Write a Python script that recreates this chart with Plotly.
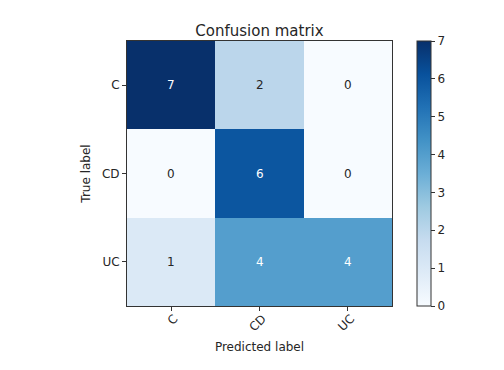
import plotly.graph_objects as go

classes = ["C", "CD", "UC"]
values = [[7, 2, 0],
          [0, 6, 0],
          [1, 4, 4]]

blues = ["#f7fbff", "#deebf7", "#c6dbef", "#9ecae1", "#6baed6",
         "#4292c6", "#2171b5", "#08519c", "#08306b"]
colorscale = [[i / (len(blues) - 1), c] for i, c in enumerate(blues)]

vmax = max(max(r) for r in values)
thresh = vmax / 2.0

FONT = "DejaVu Sans"
TXT = "#262626"

fig = go.Figure()
fig.add_trace(go.Heatmap(
    z=values, x=classes, y=classes,
    colorscale=colorscale, zmin=0, zmax=vmax,
    showscale=True, xgap=0, ygap=0,
    colorbar=dict(
        thickness=14, len=1.0, lenmode="fraction",
        x=1.0943, xanchor="left", xpad=0, y=0.5, yanchor="middle", ypad=0,
        outlinecolor="#333333", outlinewidth=1,
        ticks="outside", ticklen=4, tickcolor="#333333",
        tickvals=list(range(0, vmax + 1)),
        tickfont=dict(family=FONT, size=12, color=TXT),
    ),
    hoverinfo="skip",
))

annotations = []
for i, row in enumerate(values):
    for j, v in enumerate(row):
        annotations.append(dict(
            x=classes[j], y=classes[i], text=str(v), showarrow=False,
            font=dict(family=FONT, size=12,
                      color="white" if v > thresh else TXT),
        ))

# The page body has an 8px default margin, so the figure is laid out
# 8px smaller/offset to line up with the reference frame.
fig.update_layout(
    width=496, height=354,
    margin=dict(l=119, r=112, t=33, b=56, autoexpand=False),
    paper_bgcolor="white", plot_bgcolor="white",
    annotations=annotations,
    title=dict(text="Confusion matrix", x=0.5, xref="paper", xanchor="center",
               y=1, yref="paper", yanchor="bottom", pad=dict(b=5),
               font=dict(family=FONT, size=15, color=TXT)),
    font=dict(family=FONT, size=12, color=TXT),
)
fig.update_xaxes(
    showline=True, linecolor="#333333", linewidth=1, mirror=True,
    ticks="outside", ticklen=4, tickcolor="#333333", tickangle=-45,
    ticklabelstandoff=-4, ticklabelshift=3,
    showgrid=False, zeroline=False,
    tickfont=dict(family=FONT, size=12, color=TXT),
    title=dict(text="Predicted label", font=dict(size=12), standoff=9),
)
fig.update_yaxes(
    autorange="reversed",
    showline=True, linecolor="#333333", linewidth=1, mirror=True,
    ticks="outside", ticklen=4, tickcolor="#333333",
    showgrid=False, zeroline=False,
    tickfont=dict(family=FONT, size=12, color=TXT),
    title=dict(text="True label", font=dict(size=12), standoff=8),
)

fig.write_html("out.html")
